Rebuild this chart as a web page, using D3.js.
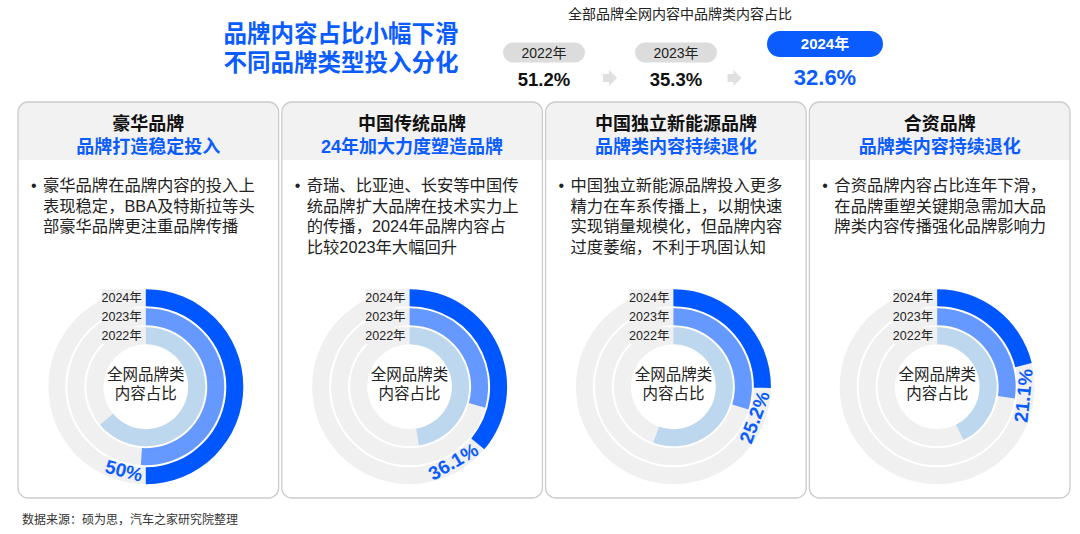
<!DOCTYPE html>
<html><head><meta charset="utf-8">
<script src="https://cdn.jsdelivr.net/npm/d3@7"></script>
<style>
html,body{margin:0;padding:0;background:#fff;}
svg{display:block;font-family:"Liberation Sans","Noto Sans CJK SC",Arial,sans-serif;}
</style></head>
<body>
<svg id="chart" width="1080" height="534"></svg>
<script>
// ---------- data ----------
const titleLines = ["品牌内容占比小幅下滑", "不同品牌类型投入分化"];
const overallTitle = "全部品牌全网内容中品牌类内容占比";
const years = ["2022年", "2023年", "2024年"];
const overallShare = [51.2, 35.3, 32.6];
const brandTypes = ["豪华品牌", "中国传统品牌", "中国独立新能源品牌", "合资品牌"];
const headlines = ["品牌打造稳定投入", "24年加大力度塑造品牌", "品牌类内容持续退化", "品牌类内容持续退化"];
const notes = [
  ["豪华品牌在品牌内容的投入上", "表现稳定，BBA及特斯拉等头", "部豪华品牌更注重品牌传播"],
  ["奇瑞、比亚迪、长安等中国传", "统品牌扩大品牌在技术实力上", "的传播，2024年品牌内容占", "比较2023年大幅回升"],
  ["中国独立新能源品牌投入更多", "精力在车系传播上，以期快速", "实现销量规模化，但品牌内容", "过度萎缩，不利于巩固认知"],
  ["合资品牌内容占比连年下滑，", "在品牌重塑关键期急需加大品", "牌类内容传播强化品牌影响力"]
];
const share2022 = [64, 47.5, 55.5, 42.7];
const share2023 = [51, 29.3, 29.7, 27.4];
const share2024 = [50, 36.1, 25.2, 21.1];
const centerLabel = ["全网品牌类", "内容占比"];
const sourceNote = "数据来源：硕为思，汽车之家研究院整理";

// ---------- styles ----------
const BLUE = "#0a5cff";
const ringColors = ["#bdd7ee", "#6699ff", "#0057ff"];
const svg = d3.select("#chart");

// ---------- header ----------
svg.append("g").selectAll("text").data(titleLines).join("text")
  .attr("x", 341).attr("y", (d, i) => 42 + i * 29)
  .attr("text-anchor", "middle").attr("font-size", 23.5).attr("font-weight", "bold")
  .attr("fill", BLUE).text(d => d);

svg.append("text").attr("x", 680).attr("y", 19).attr("text-anchor", "middle")
  .attr("font-size", 14).attr("fill", "#222").text(overallTitle);

const topX = d3.scaleOrdinal().domain(years).range([544, 676, 825]);
const gTop = svg.append("g");
years.forEach((y, i) => {
  const cx = topX(y);
  const last = i === years.length - 1;
  const w = last ? 116 : 82, h = last ? 26 : 20, cy = last ? 44 : 52.5;
  gTop.append("rect").attr("x", cx - w / 2).attr("y", cy - h / 2).attr("width", w).attr("height", h)
    .attr("rx", h / 2).attr("fill", last ? BLUE : "#dcdcdc");
  gTop.append("text").attr("x", cx).attr("y", cy).attr("dy", "0.36em").attr("text-anchor", "middle")
    .attr("font-size", last ? 15 : 14).attr("font-weight", last ? "bold" : "normal")
    .attr("fill", last ? "#fff" : "#222").text(y);
  gTop.append("text").attr("x", cx).attr("y", last ? 85 : 86).attr("text-anchor", "middle")
    .attr("font-size", last ? 22 : 18.5).attr("font-weight", "bold")
    .attr("fill", last ? BLUE : "#111").text(d3.format(".1f")(overallShare[i]) + "%");
  if (i > 0) {
    const ax = (topX(years[i - 1]) + cx) / 2 + (last ? -16 : 0), ay = 78;
    gTop.append("path")
      .attr("d", `M${ax - 7},${ay - 4} h6 v-4 l8,8 l-8,8 v-4 h-6 z`)
      .attr("fill", "#e0e0e0");
  }
});

// ---------- panels ----------
const band = d3.scaleBand().domain(brandTypes).range([18, 1070]).paddingInner(0.012);
const panelTop = 102, panelBottom = 498, headerH = 58;
const ringOuter = 97.5, ringW = 17, ringGap = 2;
const angle = d3.scaleLinear().domain([0, 100]).range([0, 2 * Math.PI]);
const arc = d3.arc();

brandTypes.forEach((bt, i) => {
  const x0 = band(bt), w = band.bandwidth();
  const g = svg.append("g");
  const r = 10, hb = panelTop + headerH;
  g.append("rect").attr("x", x0).attr("y", panelTop).attr("width", w).attr("height", panelBottom - panelTop)
    .attr("rx", r).attr("fill", "#fff");
  g.append("path")
    .attr("d", `M${x0},${hb} V${panelTop + r} Q${x0},${panelTop} ${x0 + r},${panelTop} H${x0 + w - r} Q${x0 + w},${panelTop} ${x0 + w},${panelTop + r} V${hb} Z`)
    .attr("fill", "#f2f2f2");
  g.append("rect").attr("x", x0).attr("y", panelTop).attr("width", w).attr("height", panelBottom - panelTop)
    .attr("rx", r).attr("fill", "none").attr("stroke", "#cccccc").attr("stroke-width", 1.3);

  const mx = x0 + w / 2;
  g.append("text").attr("x", mx).attr("y", 130).attr("text-anchor", "middle")
    .attr("font-size", 18).attr("font-weight", "bold").attr("fill", "#111").text(bt);
  g.append("text").attr("x", mx).attr("y", 153).attr("text-anchor", "middle")
    .attr("font-size", 18).attr("font-weight", "bold").attr("fill", BLUE).text(headlines[i]);

  g.append("text").attr("x", x0 + 13).attr("y", 191).attr("font-size", 16).attr("fill", "#222").text("•");
  g.append("g").selectAll("text").data(notes[i]).join("text")
    .attr("x", x0 + 25).attr("y", (d, j) => 191 + j * 20.5)
    .attr("font-size", 16.3).attr("fill", "#222").text(d => d);

  // rings
  const cx = mx - 2.5, cy = 386.7;
  const rg = g.append("g").attr("transform", `translate(${cx},${cy})`);
  const vals = [share2022[i], share2023[i], share2024[i]];
  const mids = [];
  years.forEach((y, k) => {
    const outer = ringOuter - (2 - k) * (ringW + ringGap);
    const inner = outer - ringW;
    mids.push((outer + inner) / 2);
    rg.append("path").attr("d", arc({innerRadius: inner, outerRadius: outer, startAngle: 0, endAngle: 2 * Math.PI}))
      .attr("fill", "#f0f0f0");
    rg.append("path").attr("d", arc({innerRadius: inner, outerRadius: outer, startAngle: 0, endAngle: angle(vals[k])}))
      .attr("fill", ringColors[k]);
  });
  // year labels drawn on top of all rings
  years.forEach((y, k) => {
    rg.append("rect").attr("x", -44).attr("y", -mids[k] - 8.5).attr("width", 42).attr("height", 17)
      .attr("fill", "#f0f0f0");
    rg.append("text").attr("x", -4).attr("y", -mids[k]).attr("dy", "0.36em")
      .attr("text-anchor", "end").attr("font-size", 12.5).attr("fill", "#222").text(y);
  });
  rg.append("g").selectAll("text").data(centerLabel).join("text")
    .attr("x", 0).attr("y", (d, j) => -12 + j * 19).attr("dy", "0.36em").attr("text-anchor", "middle")
    .attr("font-size", 15.5).attr("fill", "#222").text(d => d);

  // percent label on the outer ring
  const lbl = rg.append("text").attr("text-anchor", "middle").attr("dy", "0.36em")
    .attr("font-size", 19).attr("font-weight", "bold").attr("fill", BLUE)
    .text(share2024[i] + "%");
  const len = lbl.node().getComputedTextLength();
  const rl = ringOuter - 11;
  const th = angle(share2024[i]) + (len / 2 + 3) / rl;
  const deg = th * 180 / Math.PI;
  const px = rl * Math.sin(th), py = -rl * Math.cos(th);
  lbl.attr("transform", `translate(${px},${py}) rotate(${deg - 180})`);
});

svg.append("text").attr("x", 22).attr("y", 524).attr("font-size", 12).attr("fill", "#333").text(sourceNote);
</script>
</body></html>
